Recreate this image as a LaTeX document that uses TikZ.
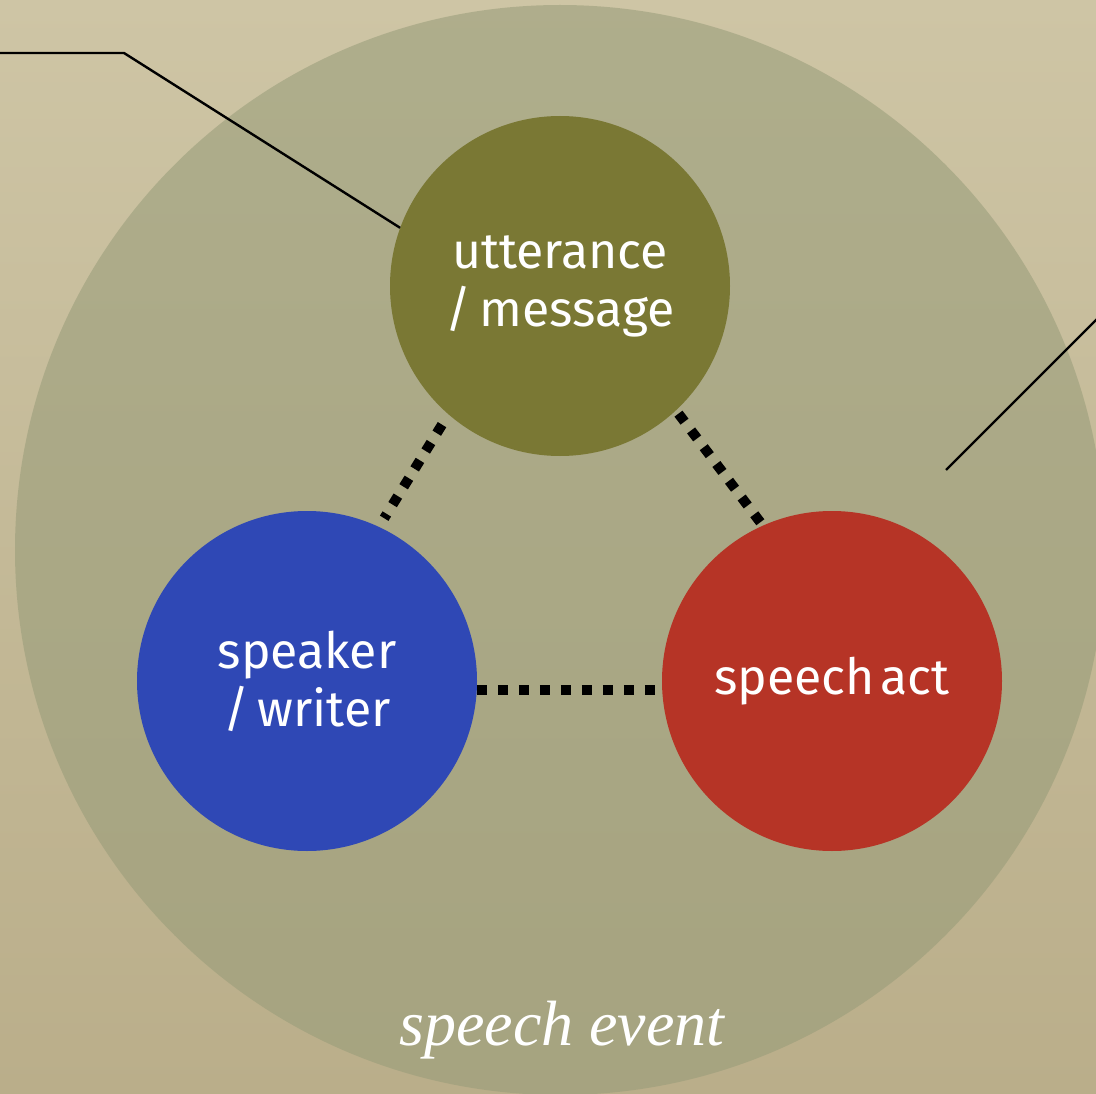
\documentclass[tikz,border=0pt]{standalone}
\usepackage{fontspec}
\setsansfont{Fira Sans}
\newfontfamily\eventfont{Liberation Serif}
\usetikzlibrary{calc}

\definecolor{paper}{RGB}{194,184,150}
\definecolor{papertop}{RGB}{206,197,165}
\definecolor{paperbot}{RGB}{186,174,138}
\definecolor{eventgreen}{RGB}{150,155,120}
\definecolor{utterolive}{RGB}{122,120,52}
\definecolor{speakerblue}{RGB}{47,72,181}
\definecolor{actred}{RGB}{182,52,38}

\tikzset{
  part/.style = {circle, minimum size=340pt, inner sep=0pt, text=white,
                 align=center, font=\sffamily\fontsize{50}{58}\selectfont},
  linkdots/.style = {line width=10pt, dash pattern=on 10pt off 11pt},
  pointer/.style = {line width=2.4pt, line join=round}
}

\begin{document}
\begin{tikzpicture}[x=1pt, y=-1pt]
    
    \useasboundingbox (0,0) rectangle (1096,1094);
    \clip (0,0) rectangle (1096,1094);
    \shade[top color=papertop, bottom color=paperbot] (0,0) rectangle (1096,1094);
    
    \node (event) at (560,550) [circle, minimum size=1090pt, inner sep=0pt,
        fill=eventgreen, fill opacity=0.55] {};
    
    \node (utter) at (560,286) [part, fill=utterolive] {utterance\\/\,message};
    \node (speaker) at (307,681) [part, fill=speakerblue] {speaker\\/\,writer};
    \node (sact) at (832,681) [part, fill=actred] {speech\hspace{0.12em}act};
    
    \node (eventlabel) at (562,1045) [anchor=base, text=white,
        font=\eventfont\itshape\fontsize{64}{72}\selectfont] {speech event};
    
    \draw [linkdots, shorten <=12pt, shorten >=10pt] (utter.229) -- (speaker.65);
    \draw [linkdots, shorten <=4pt, shorten >=-6pt] (utter.-47) -- (sact.114);
    \draw [linkdots] (speaker.-3) -- (sact.183);
    
    \coordinate (lefttip) at (0,53);
    \coordinate (leftbend) at (124,53);
    \draw [pointer] (lefttip) -- (leftbend) -- (utter.160);
    
    \coordinate (rightstart) at (946,470);
    \coordinate (righttip) at (1100,316);
    \draw [pointer] (rightstart) -- (righttip);

\end{tikzpicture}
\end{document}
